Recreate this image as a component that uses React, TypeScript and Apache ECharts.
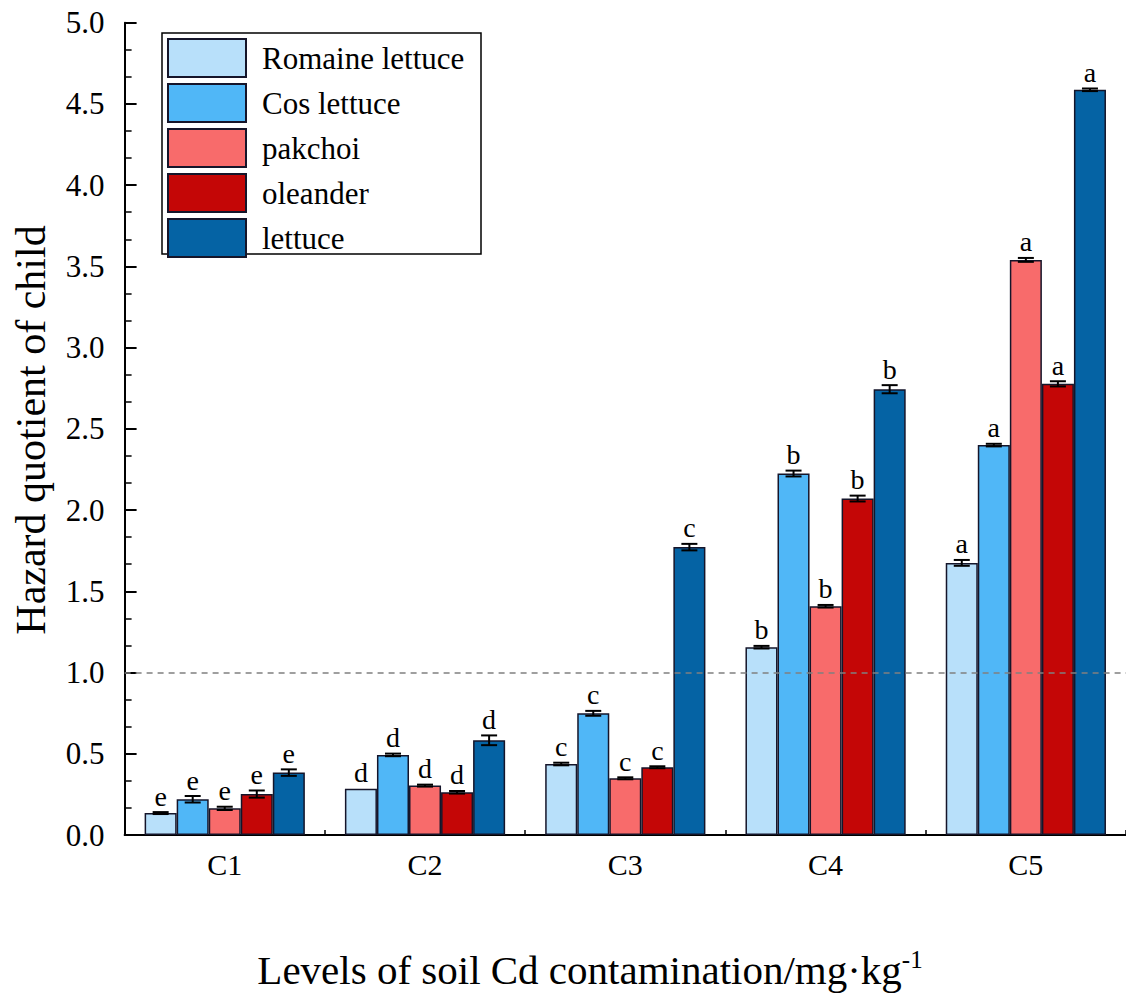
import React, { useEffect, useRef } from "react";
import * as echarts from "echarts";

const categories = ["C1", "C2", "C3", "C4", "C5"];
const seriesNames = ["Romaine lettuce", "Cos lettuce", "pakchoi", "oleander", "lettuce"];

const romaineValues = [0.135, 0.285, 0.437, 1.156, 1.675];
const cosValues = [0.22, 0.493, 0.749, 2.225, 2.4];
const pakchoiValues = [0.164, 0.304, 0.349, 1.408, 3.54];
const oleanderValues = [0.252, 0.263, 0.417, 2.071, 2.777];
const lettuceValues = [0.384, 0.583, 1.772, 2.744, 4.587];

const romaineErrors = [0.006, 0, 0.008, 0.008, 0.018];
const cosErrors = [0.02, 0.008, 0.015, 0.018, 0.008];
const pakchoiErrors = [0.01, 0.006, 0.006, 0.008, 0.012];
const oleanderErrors = [0.022, 0.008, 0.006, 0.018, 0.016];
const lettuceErrors = [0.02, 0.03, 0.02, 0.025, 0.008];

const romaineLetters = ["e", "d", "c", "b", "a"];
const cosLetters = ["e", "d", "c", "b", "a"];
const pakchoiLetters = ["e", "d", "c", "b", "a"];
const oleanderLetters = ["e", "d", "c", "b", "a"];
const lettuceLetters = ["e", "d", "c", "b", "a"];

const referenceLevel = 1.0;
const yTicksMin = 0;
const yTicksMax = 5;
const yTicksInterval = 0.5;

const allValues = [romaineValues, cosValues, pakchoiValues, oleanderValues, lettuceValues];
const allErrors = [romaineErrors, cosErrors, pakchoiErrors, oleanderErrors, lettuceErrors];
const allLetters = [romaineLetters, cosLetters, pakchoiLetters, oleanderLetters, lettuceLetters];

const colors = ["#b8e0fa", "#50b7f7", "#f86b6b", "#c40606", "#0563a4"];
const SERIF = "Liberation Serif";
const BAR_RATIO = 0.16;

export default function App() {
  const ref = useRef<HTMLDivElement>(null);

  useEffect(() => {
    if (!ref.current) return;
    const chart = echarts.init(ref.current, undefined, { renderer: "svg" });

    const barSeries: any[] = seriesNames.map((name, i) => ({
      name,
      type: "bar",
      data: allValues[i],
      barWidth: "16%",
      barGap: "0%",
      itemStyle: { color: colors[i], borderColor: "#15152a", borderWidth: 1.5 },
      z: 2,
      ...(i === 0
        ? {
            markLine: {
              silent: true,
              symbol: ["none", "none"],
              label: { show: false },
              lineStyle: { color: "#808080", type: [6, 5], width: 1.5 },
              data: [{ yAxis: referenceLevel }],
            },
          }
        : {}),
    }));

    const errSeries: any[] = seriesNames.map((name, i) => ({
      name: name + " error",
      type: "custom",
      z: 5,
      data: categories.map((_, k) => [k, allValues[i][k], allErrors[i][k]]),
      encode: { x: 0, y: 1 },
      renderItem: (params: any, api: any) => {
        const cat = api.value(0);
        const v = api.value(1);
        const e = api.value(2);
        const bw = api.size([1, 0])[0] * BAR_RATIO;
        const cx = api.coord([cat, v])[0] + (i - 2) * bw;
        const yT = api.coord([cat, v + e])[1];
        const yB = api.coord([cat, v - e])[1];
        const half = 8;
        const st = { stroke: "#000", lineWidth: 2 };
        const children: any[] = [];
        if (e > 0) {
          children.push({ type: "line", shape: { x1: cx, y1: yT, x2: cx, y2: yB }, style: st });
          children.push({ type: "line", shape: { x1: cx - half, y1: yT, x2: cx + half, y2: yT }, style: st });
          children.push({ type: "line", shape: { x1: cx - half, y1: yB, x2: cx + half, y2: yB }, style: st });
        }
        children.push({
          type: "text",
          style: {
            text: allLetters[i][params.dataIndex],
            x: cx,
            y: yT - 2,
            align: "center",
            verticalAlign: "bottom",
            fontSize: 28,
            fontFamily: SERIF,
            fill: "#000",
          },
        });
        return { type: "group", children };
      },
    }));

    chart.setOption({
      animation: false,
      backgroundColor: "#ffffff",
      textStyle: { fontFamily: SERIF },
      grid: { left: 124.6, right: -8, top: 22.7, bottom: 165, containLabel: false },
      legend: {
        data: seriesNames,
        orient: "vertical",
        left: 167,
        top: 38,
        padding: 0,
        itemWidth: 78,
        itemHeight: 38,
        itemGap: 5,
        icon: "rect",
        selectedMode: false,
        formatter: (name: string) => "{t|" + name + "}",
        textStyle: {
          fontSize: 31,
          fontFamily: SERIF,
          color: "#000",
          rich: {
            t: { fontSize: 31, fontFamily: SERIF, color: "#000", padding: [0, 0, 0, 11] },
          },
        },
      },
      xAxis: [
        {
          type: "category",
          data: categories,
          position: "bottom",
          axisLine: { show: true, lineStyle: { color: "#000", width: 2 } },
          axisTick: { show: true, inside: true, alignWithLabel: true, length: 10, lineStyle: { color: "#000", width: 1.5 } },
          axisLabel: { fontSize: 30, fontFamily: SERIF, color: "#000", margin: 14 },
        },
        {
          type: "category",
          data: categories,
          position: "bottom",
          axisLine: { show: false },
          axisTick: { show: true, inside: true, alignWithLabel: false, length: 5, lineStyle: { color: "#000", width: 1.5 } },
          axisLabel: { show: false },
          splitLine: { show: false },
        },
      ],
      yAxis: {
        type: "value",
        min: yTicksMin,
        max: yTicksMax,
        interval: yTicksInterval,
        axisLine: { show: true, lineStyle: { color: "#000", width: 2 } },
        axisTick: { show: true, inside: true, length: 12, lineStyle: { color: "#000", width: 2 } },
        minorTick: { show: true, splitNumber: 3, length: 7, lineStyle: { color: "#000", width: 1.5 } },
        splitLine: { show: false },
        axisLabel: {
          fontSize: 31,
          fontFamily: SERIF,
          color: "#000",
          margin: 20,
          formatter: (v: number) => v.toFixed(1),
        },
      },
      graphic: [
        {
          type: "rect",
          z: 1,
          shape: { x: 162, y: 33, width: 319, height: 221 },
          style: { fill: "transparent", stroke: "#000", lineWidth: 1.5 },
        },
        {
          type: "text",
          x: 31,
          y: 430,
          rotation: Math.PI / 2,
          style: {
            text: "Hazard quotient of child",
            align: "center",
            verticalAlign: "middle",
            fontSize: 42,
            fontFamily: SERIF,
            fill: "#000",
          },
        },
        {
          type: "text",
          x: 590,
          y: 970,
          style: {
            text: "{m|Levels of soil Cd contamination/mg·kg}{s|-1}",
            align: "center",
            verticalAlign: "middle",
            fill: "#000",
            rich: {
              m: { fontSize: 41, fontFamily: SERIF, fill: "#000", lineHeight: 46 },
              s: { fontSize: 25, fontFamily: SERIF, fill: "#000", verticalAlign: "top", lineHeight: 46 },
            },
          },
        },
      ],
      series: [...barSeries, ...errSeries],
    });

    return () => chart.dispose();
  }, []);

  return (
    <div
      ref={ref}
      style={{ position: "absolute", left: 0, top: 0, width: 1126, height: 1000, background: "#fff" }}
    />
  );
}
